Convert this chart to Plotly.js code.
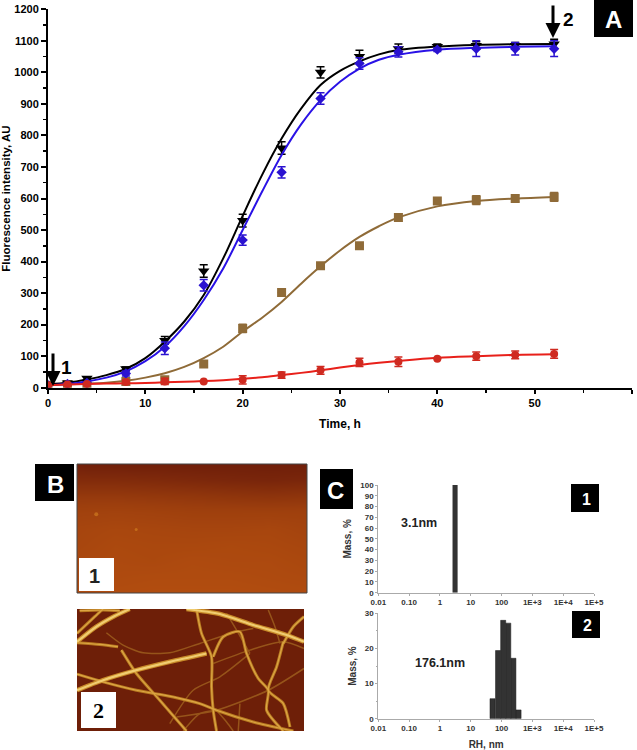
<!DOCTYPE html>
<html><head><meta charset="utf-8">
<script src="https://cdn.plot.ly/plotly-3.0.1.min.js"></script>
<style>html,body{margin:0;padding:0;background:#fff}#c{width:637px;height:750px}
#c .x3y3 .scatterlayer{filter:blur(0.7px)}</style></head>
<body><div id="c"></div>
<script>
// Panel A measurements
const timeH = [0,2,4,8,12,16,20,24,28,32,36,40,44,48,52];
const blackVals = [10,15,30,60,150,370,530,760,1000,1050,1075,1082,1085,1085,1090];
const blackErr  = [4,4,4,6,12,20,20,20,18,20,15,8,12,10,15];
const blueVals  = [8,12,15,45,125,325,468,683,917,1028,1065,1072,1075,1075,1075];
const blueErr   = [3,3,3,8,20,18,16,18,18,18,16,6,25,20,25];
const brownVals = [8,10,12,20,25,75,188,302,387,450,540,592,595,600,605];
const brownErr  = [0,0,0,6,10,0,13,0,0,0,12,0,14,10,14];
const redVals   = [8,10,12,18,20,20,25,40,55,80,82,92,100,104,107];
const redErr    = [3,3,3,6,10,0,13,10,12,13,15,0,13,12,14];
// Fitted curves
const curveT = [0,2,4,6,8,10,12,14,16,18,20,22,24,26,28,30,32,34,36,40,44,48,52];
const blackCurve = [12,16,26,40,60,94,146,210,294,410,545,675,790,885,960,1005,1035,1057,1071,1082,1087,1089,1090];
const blueCurve  = [8,12,20,32,52,84,130,195,278,378,500,622,738,835,912,970,1012,1040,1056,1072,1078,1081,1083];
const brownCurve = [10,11,13,16,22,32,46,66,94,130,178,222,272,330,385,435,478,512,540,575,592,600,605];
const redCurve   = [8,10,12,13,14,15,17,19,21,24,28,33,40,47,55,64,72,79,85,95,100,104,106];
// Panel C measurements
const c1Radius = [3.1];
const c1Mass = [100];
const c2Radius = [51,77,113,165,242,356];
const c2Mass = [5.7,19.4,28,27.2,17.2,2.5];
const decadeTicks = [-2,-1,0,1,2,3,4,5];
const decadeLabels = ['0.01','0.10','1','10','100','1E+3','1E+4','1E+5'];
// Panel B1 surface brightness, top to bottom
const afmRows = [
 [0.02,0.00,0.00,0.00,0.00,0.00,0.00],
 [0.20,0.20,0.18,0.15,0.12,0.10,0.12],
 [0.42,0.42,0.40,0.38,0.35,0.33,0.35],
 [0.58,0.60,0.58,0.55,0.55,0.55,0.55],
 [0.66,0.70,0.68,0.66,0.66,0.68,0.62],
 [0.68,0.74,0.72,0.72,0.74,0.72,0.68],
 [0.72,0.76,0.74,0.78,0.76,0.76,0.72],
 [0.74,0.78,0.80,0.80,0.80,0.78,0.76],
 [0.80,0.82,0.84,0.84,0.84,0.82,0.80]];
// Panel B2 fibres, traced in image coordinates
const fibreThick = [
 [[172,545],[230,500],[285,468],[330,447]],
 [[172,690],[250,660],[350,630],[450,605],[560,580]],
 [[500,447],[600,462],[700,495],[800,525],[852,545]]];
const fibreMedium = [
 [[172,520],[225,470],[250,447]],
 [[180,452],[250,450],[300,452]],
 [[172,548],[240,553],[295,560]],
 [[305,570],[350,640],[420,720],[500,812]],
 [[172,642],[250,665],[350,690],[460,710],[540,730],[590,750],[700,785],[820,812]],
 [[530,447],[545,520],[575,590],[575,680],[580,750],[590,812]],
 [[580,590],[610,530],[660,515],[680,580],[715,655],[745,690],[740,750],[790,812]],
 [[790,545],[770,620],[745,690],[790,730],[810,800]],
 [[852,470],[820,500],[790,550]]];
const fibreThin = [
 [[260,518],[310,555],[370,578],[450,578],[540,550],[650,515],[700,505]],
 [[745,450],[765,500],[780,550]],
 [[620,460],[650,510],[690,580]],
 [[450,790],[520,690],[600,650],[690,580]],
 [[470,770],[590,750],[745,690],[852,625]],
 [[590,750],[620,785],[640,812]],
 [[660,730],[655,812]],
 [[580,610],[690,570],[790,545],[852,565]],
 [[490,812],[540,760],[590,750]]];

const W=637,H=750;
const dx=(a,b)=>[a/W,b/W];
const dy=(top,bottom)=>[1-bottom/H,1-top/H];
const px=x=>x/W, py=y=>1-y/H;
const F='"Liberation Sans",Arial,sans-serif';
const traces=[];
function series(x,y,e,color,sym,size,line){
  traces.push({x:curveT,y:line,mode:'lines',line:{color:color.line,width:2,shape:'spline',smoothing:0.9},xaxis:'x',yaxis:'y',hoverinfo:'skip'});
  traces.push({x:x,y:y,mode:'markers',marker:{color:color.mark,symbol:sym,size:size},
    error_y:{type:'data',array:e,color:color.mark,thickness:1.5,width:4},xaxis:'x',yaxis:'y',hoverinfo:'skip'});
}
series(timeH,brownVals,brownErr,{line:'#8f6b38',mark:'#8f6b38'},'square',9,brownCurve);
series(timeH,blackVals,blackErr,{line:'#000',mark:'#000'},'triangle-down',10,blackCurve);
series(timeH,blueVals,blueErr,{line:'#2a12e6',mark:'#2a12d0'},'diamond',8,blueCurve);
series(timeH,redVals,redErr,{line:'#e8201a',mark:'#cf2a20'},'circle',8,redCurve);

// B1
traces.push({type:'heatmap',z:afmRows,x:[170,285,400,516,632,747,862],y:[12,60,108,157,205,253,302,350,398],
  zmin:0,zmax:1,zsmooth:'best',showscale:false,xaxis:'x2',yaxis:'y2',hoverinfo:'skip',
  colorscale:[[0,'#701f0a'],[0.5,'#9c3e0d'],[1,'#bc5410']]});
traces.push({x:[228,348],y:[162,208],mode:'markers',marker:{color:'#cf7a20',size:[4,3],line:{width:0}},xaxis:'x2',yaxis:'y2',hoverinfo:'skip'});
// B2
function fibres(list,color,width){
  list.forEach(f=>traces.push({x:f.map(p=>p[0]),y:f.map(p=>p[1]),mode:'lines',
    line:{color:color,width:width,shape:'spline',smoothing:0.7},xaxis:'x3',yaxis:'y3',hoverinfo:'skip'}));
}
fibres(fibreThin,'#96541a',1.5);
fibres(fibreMedium,'#b87a20',3);
fibres(fibreThick,'#c88a28',4.5);
fibres(fibreMedium,'#dca544',1.2);
fibres(fibreThick,'#f0cc70',2.2);
// C
const barW=0.165;
traces.push({type:'bar',x:c1Radius.map(Math.log10),y:c1Mass,width:barW,marker:{color:'#333'},xaxis:'x4',yaxis:'y4',hoverinfo:'skip'});
traces.push({type:'bar',x:c2Radius.map(Math.log10),y:c2Mass,width:barW,marker:{color:'#333',line:{color:'#1a1a1a',width:0.5}},xaxis:'x5',yaxis:'y5',hoverinfo:'skip'});

const hidden={showgrid:false,zeroline:false,showticklabels:false,ticks:'',showline:false,fixedrange:true};
const cTick={family:F,size:8,color:'#333',weight:700};
function cX(dom,title){return {domain:dom,range:[-2,5],tickvals:decadeTicks,ticktext:decadeLabels,tickfont:cTick,
  showgrid:false,zeroline:false,showline:true,linecolor:'#aaa',linewidth:1,ticks:'outside',ticklen:2,tickcolor:'#aaa',
  title:title?{text:title,font:{family:F,size:10,color:'#333',weight:700},standoff:8}:undefined};}
function cY(dom,top,dtick,minor){return {domain:dom,range:[0,top],dtick:dtick,tickfont:cTick,showgrid:false,zeroline:false,
  showline:true,linecolor:'#aaa',linewidth:1,ticks:'outside',ticklen:2,tickcolor:'#aaa',
  minor:minor?{dtick:minor,ticks:'outside',ticklen:1.5,tickcolor:'#aaa'}:undefined,
  title:{text:'Mass, %',font:{family:F,size:10,color:'#333',weight:700},standoff:6}};}

function box(x0,y0,x1,y1,fill){return {type:'rect',xref:'paper',yref:'paper',x0:px(x0),x1:px(x1),y0:py(y1),y1:py(y0),
  fillcolor:fill,line:{width:0},layer:'above'};}
function label(x,y,text,size,color,family){return {xref:'paper',yref:'paper',x:px(x),y:py(y),text:text,showarrow:false,
  xanchor:'center',yanchor:'middle',font:{family:family||F,size:size,color:color,weight:700}};}
function arrow(x,yTip,len){return {xref:'paper',yref:'paper',x:px(x),y:py(yTip),ax:0,ay:-len,axref:'pixel',ayref:'pixel',text:'',
  showarrow:true,arrowhead:2,arrowsize:1,arrowwidth:3,arrowcolor:'#000'};}

const layout={width:W,height:H,margin:{l:0,r:0,t:0,b:0},paper_bgcolor:'#fff',plot_bgcolor:'rgba(0,0,0,0)',
  showlegend:false,barmode:'overlay',font:{family:F},
  xaxis:{domain:dx(48,632),range:[0,60],anchor:'y',dtick:10,showgrid:false,zeroline:false,showline:true,linecolor:'#000',linewidth:2,
    ticks:'outside',ticklen:4,tickwidth:2,tickcolor:'#000',minor:{dtick:5,ticks:'outside',ticklen:3,tickwidth:1.5,tickcolor:'#000'},
    tickfont:{family:F,size:11,color:'#000',weight:700},
    title:{text:'Time, h',font:{family:F,size:12,color:'#000',weight:700},standoff:12}},
  yaxis:{domain:dy(9.3,387.7),range:[0,1200],anchor:'x',dtick:100,showgrid:false,zeroline:false,showline:true,linecolor:'#000',linewidth:2,
    ticks:'outside',ticklen:5,tickwidth:2,tickcolor:'#000',minor:{dtick:50,ticks:'outside',ticklen:3,tickwidth:1.5,tickcolor:'#000'},
    tickfont:{family:F,size:11,color:'#000',weight:700},
    title:{text:'Fluorescence intensity, AU',font:{family:F,size:11.5,color:'#000',weight:700},standoff:3}},
  xaxis2:Object.assign({domain:dx(77,307),range:[170,862],anchor:'y2'},hidden),
  yaxis2:Object.assign({domain:dy(464,593),range:[398,12],anchor:'x2'},hidden),
  xaxis3:Object.assign({domain:dx(77,304),range:[172,852],anchor:'y3'},hidden),
  yaxis3:Object.assign({domain:dy(609,731),range:[812,447],anchor:'x3'},hidden),
  xaxis4:Object.assign(cX(dx(378.3,594)),{anchor:'y4'}),
  yaxis4:Object.assign(cY(dy(485,592.7),100,10),{anchor:'x4'}),
  xaxis5:Object.assign(cX(dx(378.3,594),'RH, nm'),{anchor:'y5'}),
  yaxis5:Object.assign(cY(dy(613.3,718.7),30,10,5),{anchor:'x5'}),
  shapes:[
    {type:'rect',xref:'paper',yref:'paper',x0:px(77),x1:px(307),y0:py(593),y1:py(464),line:{color:'#444',width:1},layer:'above'},
    {type:'rect',xref:'paper',yref:'paper',x0:px(77),x1:px(304),y0:py(731),y1:py(609),fillcolor:'#6e1f08',line:{width:0},layer:'below'},
    box(594,0,633,37,'#000'),box(35,464,74,501,'#000'),box(320,469,353,509,'#000'),
    box(571,484,599,512,'#000'),box(572,611,600,638,'#000'),
    box(79,558,114,591,'#fff'),box(81,692,116,728,'#fff')],
  annotations:[
    label(613,20,'A',24,'#fff'),label(55,484,'B',24,'#fff'),label(335,490,'C',24,'#fff'),
    label(586,499,'1',16,'#fff'),label(587,625,'2',16,'#fff'),
    label(94,576,'1',20,'#222'),label(98,710,'2',22,'#000','"Liberation Serif",serif'),
    label(419,523,'3.1nm',12.5,'#222'),label(440,663,'176.1nm',12.5,'#222'),
    arrow(53,386,34),arrow(553,38,34),
    label(66,367,'1',19,'#000'),label(568,20,'2',19,'#000')]
};
Plotly.newPlot('c',traces,layout,{staticPlot:true,displayModeBar:false});
</script></body></html>
